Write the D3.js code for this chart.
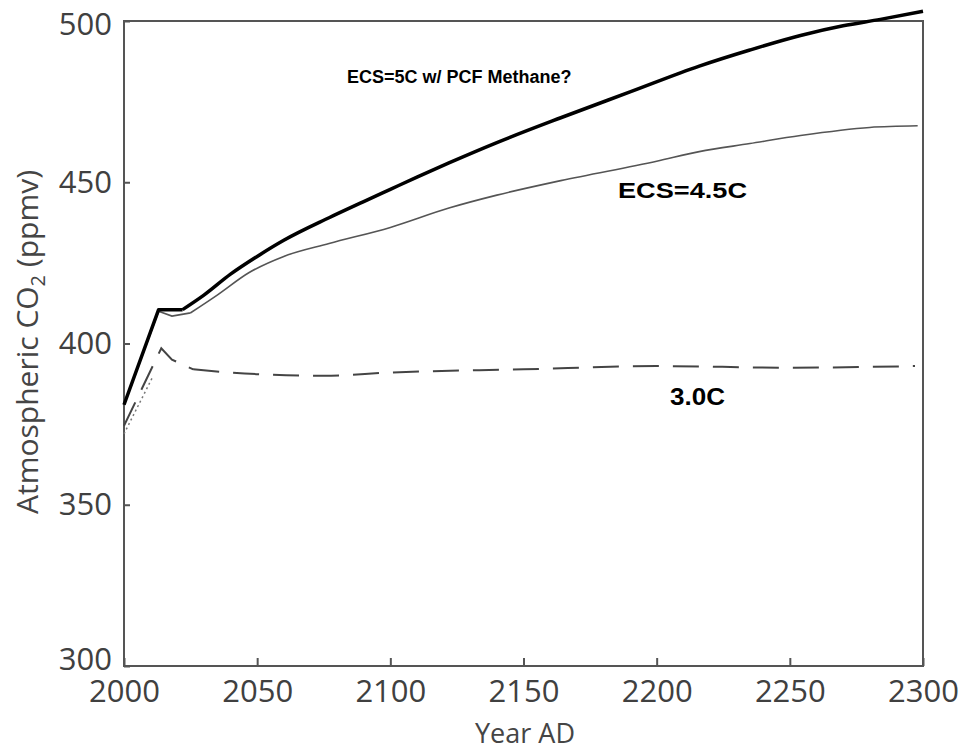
<!DOCTYPE html>
<html>
<head>
<meta charset="UTF-8">
<title>Atmospheric CO2</title>
<script src="https://cdn.jsdelivr.net/npm/d3@7"></script>
<style>
  body { margin: 0; background: #fff; }
  svg { display: block; }
</style>
</head>
<body>
<div id="chart"></div>
<script>
// data
const xTicks = [2000, 2050, 2100, 2150, 2200, 2250, 2300];
const yTicks = [300, 350, 400, 450, 500];

const ecs5Years  = [2000, 2013, 2022, 2030, 2040, 2050, 2060, 2077, 2090, 2100, 2110, 2122, 2140, 2164, 2190, 2216, 2235, 2254, 2270, 2284, 2300];
const ecs5Values = [381, 410.5, 410.5, 415, 421.5, 427, 432, 439, 444, 447.8, 451.6, 456, 462.3, 470, 478, 486, 491, 495.5, 498.5, 500.5, 503];

const ecs45Years  = [2000, 2013, 2018, 2025, 2035, 2047, 2060, 2077, 2100, 2122, 2140, 2164, 2200, 2216, 2235, 2254, 2280, 2298];
const ecs45Values = [381, 410, 408.5, 409.5, 415, 422, 427, 431, 436, 442, 446, 450.5, 456.5, 459.5, 462, 464.5, 467, 467.5];

const ecs3Years  = [2000, 2014, 2018, 2026, 2040, 2075, 2100, 2150, 2200, 2250, 2297];
const ecs3Values = [374.5, 398.5, 395, 392, 391, 390, 391, 392, 393, 392.5, 393];

const obsYears  = [2000, 2011];
const obsValues = [372, 390];

const w = 960, h = 755;
const padL = 124, padR = 923, padT = 21, padB = 666;

const svg = d3.select("#chart").append("svg")
  .attr("width", w)
  .attr("height", h);

const x = d3.scaleLinear().domain([2000, 2300]).range([padL, padR]);
const y = d3.scaleLinear().domain([300, 500]).range([padB, padT]);

const zip = (xs, ys) => xs.map((d, i) => [d, ys[i]]);
const straight = d3.line().x(d => x(d[0])).y(d => y(d[1]));
const smooth = d3.line().x(d => x(d[0])).y(d => y(d[1])).curve(d3.curveMonotoneX);
// sharp kink at the start, smooth afterwards
const kinked = (pts, k) => straight(pts.slice(0, k + 1)) + smooth(pts.slice(k));

// frame
svg.append("rect")
  .attr("x", padL).attr("y", padT)
  .attr("width", padR - padL).attr("height", padB - padT)
  .attr("fill", "none").attr("stroke", "#555").attr("stroke-width", 2);

const yAxis = svg.append("g")
  .attr("transform", `translate(${padL},0)`)
  .call(d3.axisLeft(y).tickValues(yTicks).tickSize(-6).tickPadding(12));
const xAxis = svg.append("g")
  .attr("transform", `translate(0,${padB})`)
  .call(d3.axisBottom(x).tickValues(xTicks).tickSize(-8).tickPadding(14).tickFormat(d3.format("d")));

[yAxis, xAxis].forEach(g => {
  g.select(".domain").remove();
  g.selectAll("line").attr("stroke", "#555").attr("stroke-width", 2);
  g.selectAll("text")
    .attr("fill", "#404040")
    .style("font-family", "'Open Sans', sans-serif")
    .style("font-size", "31px");
});
yAxis.selectAll("text").filter(d => d === 300).attr("dy", "0.1em");
yAxis.selectAll("text").filter(d => d === 500).attr("dy", "0.45em");

// series
svg.append("path").datum(zip(obsYears, obsValues))
  .attr("d", straight).attr("fill", "none")
  .attr("stroke", "#777").attr("stroke-width", 1.5).attr("stroke-dasharray", "2,3");

svg.append("path").datum(zip(ecs3Years, ecs3Values))
  .attr("d", d => kinked(d, 3)).attr("fill", "none")
  .attr("stroke", "#444").attr("stroke-width", 2).attr("stroke-dasharray", "26,14");

svg.append("path").datum(zip(ecs45Years, ecs45Values))
  .attr("d", d => kinked(d, 3)).attr("fill", "none")
  .attr("stroke", "#555").attr("stroke-width", 1.6);

svg.append("path").datum(zip(ecs5Years, ecs5Values))
  .attr("d", d => kinked(d, 2)).attr("fill", "none")
  .attr("stroke", "#000").attr("stroke-width", 3.5)
  .attr("stroke-linejoin", "round");

// annotations
const note = (txt, px, py, size) => svg.append("text")
  .text(txt).attr("x", px).attr("y", py)
  .style("font-family", "'Liberation Sans', Arial, sans-serif")
  .style("font-weight", "bold").style("font-size", size + "px")
  .attr("fill", "#000");

note("ECS=5C w/ PCF Methane?", 347, 83, 18);
note("ECS=4.5C", 618, 198, 22).attr("textLength", 129).attr("lengthAdjust", "spacingAndGlyphs");
note("3.0C", 670, 405, 23).attr("textLength", 55).attr("lengthAdjust", "spacingAndGlyphs");

// axis titles
svg.append("text")
  .attr("x", 525).attr("y", 743)
  .attr("text-anchor", "middle")
  .attr("fill", "#454545")
  .style("font-family", "'Open Sans', sans-serif").style("font-size", "27px")
  .text("Year AD");

const yt = svg.append("text")
  .attr("transform", "translate(38,342) rotate(-90)")
  .attr("text-anchor", "middle")
  .attr("fill", "#454545")
  .style("font-family", "'Open Sans', sans-serif").style("font-size", "30px");
yt.append("tspan").text("Atmospheric CO");
yt.append("tspan").attr("dy", 7).style("font-size", "20px").text("2");
yt.append("tspan").attr("dy", -7).text(" (ppmv)");
</script>
</body>
</html>
